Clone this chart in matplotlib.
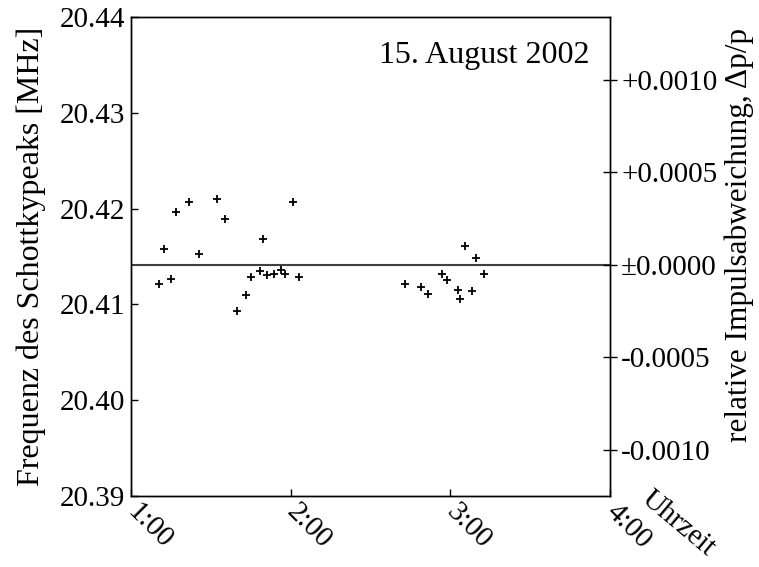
import matplotlib
matplotlib.use("Agg")
import matplotlib.pyplot as plt
import matplotlib.transforms as mtransforms
import numpy as np

plt.rcParams['font.family'] = ['Liberation Serif', 'DejaVu Serif']

# time in minutes after 1:00
t_min_1 = [10.6, 12.5, 15.1, 17.0, 21.8, 25.6, 32.3, 35.3, 39.7, 43.3, 45.2,
           48.6, 49.5, 51.0, 53.9, 56.3, 57.8, 60.9, 63.1]
f_1 = [20.41216, 20.41575, 20.41262, 20.41965, 20.42069, 20.41526, 20.42097,
       20.41888, 20.40931, 20.41098, 20.41289, 20.41345, 20.41686, 20.41307,
       20.41320, 20.41359, 20.41320, 20.42072, 20.41289]
t_min_2 = [103.1, 109.0, 111.7, 116.9, 118.8, 122.8, 123.6, 125.4, 128.1,
           129.7, 132.7]
f_2 = [20.41210, 20.41182, 20.41109, 20.41317, 20.41255, 20.41153, 20.41056,
       20.41607, 20.41140, 20.41481, 20.41314]

f0 = 20.41414          # reference frequency (dp/p = 0)
mhz_per_unit = 19.31   # MHz per unit of dp/p

x_ticks = [1, 2, 3, 4]
x_ticklabels = ['1:00', '2:00', '3:00', '4:00']
y_ticks = [20.39, 20.40, 20.41, 20.42, 20.43, 20.44]
r_ticks = [-0.0010, -0.0005, 0.0, 0.0005, 0.0010]
r_ticklabels = ['-0.0010', '-0.0005', '\u00b10.0000', '+0.0005', '+0.0010']

FS = 23
TFS = 21

t_all = np.array(t_min_1 + t_min_2) / 60.0 + 1.0
f_all = np.array(f_1 + f_2)

fig = plt.figure(figsize=(7.59, 5.67), dpi=100)
ax = fig.add_axes([0.1726, 0.1252, 0.6311, 0.8448])
ax.plot(t_all, f_all, linestyle='none', marker='+', color='black',
        markersize=6, markeredgewidth=1.3)
ax.axhline(f0, color='#404040', linewidth=1.5)

ax.set_xlim(1, 4)
ax.set_ylim(20.39, 20.44)
ax.set_xticks(x_ticks)
ax.set_xticklabels(x_ticklabels, rotation=-45, ha='left', va='center',
                   rotation_mode='anchor', fontsize=TFS)
offset = mtransforms.ScaledTranslation(9 / 100, 0, fig.dpi_scale_trans)
for lab in ax.get_xticklabels():
    lab.set_transform(lab.get_transform() + offset)
ax.set_yticks(y_ticks)
ax.set_yticklabels(['%.2f' % v for v in y_ticks], fontsize=TFS)
ax.tick_params(axis='both', direction='in', length=5, width=1)
ax.tick_params(axis='x', pad=9)
ax.tick_params(axis='y', pad=4)
ax.set_ylabel('Frequenz des Schottkypeaks [MHz]', fontsize=FS, labelpad=10)

ax2 = ax.twinx()
ax2.set_ylim((20.39 - f0) / mhz_per_unit, (20.44 - f0) / mhz_per_unit)
ax2.set_yticks(r_ticks)
ax2.set_yticklabels(r_ticklabels, fontsize=TFS)
ax2.tick_params(axis='y', direction='inout', length=10, width=1, pad=3)
ax2.set_ylabel('relative Impulsabweichung, \u0394p/p', fontsize=FS - 0.5)
ax2.yaxis.set_label_coords(1.238, 0.545)

for a in (ax, ax2):
    for s in a.spines.values():
        s.set_linewidth(1.0)
        s.set_color('black')

ax.text(0.958, 0.904, '15. August 2002', transform=ax.transAxes,
        ha='right', va='baseline', fontsize=FS)
ax.text(1.072, 0.0, 'Uhrzeit', transform=ax.transAxes, rotation=-40,
        ha='left', va='center', rotation_mode='anchor', fontsize=21)

fig.savefig('out.png', dpi=100)
